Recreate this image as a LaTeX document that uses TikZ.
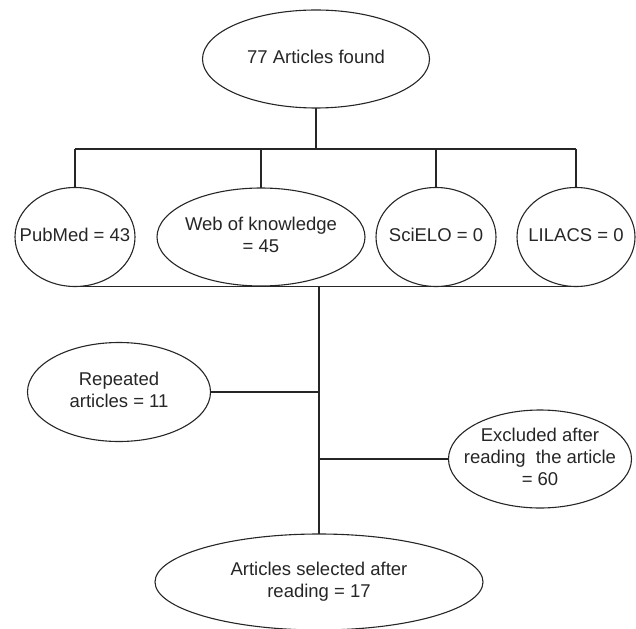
\documentclass[tikz,border=0pt]{standalone}
\usepackage{fontspec}
\setmainfont{Liberation Sans}
\usetikzlibrary{shapes.geometric}
\newcommand{\lbl}[1]{\makebox[0pt]{\begin{tabular}{@{}c@{}}#1\end{tabular}}}
\tikzset{
    bubble/.style={draw=black!85, ellipse, line width=1.1pt, inner sep=0pt, outer sep=0pt,
        text=black!85, font=\fontsize{18.5}{22}\selectfont},
    link/.style={draw=black!85, line width=1.1pt}
}
\begin{document}
\begin{tikzpicture}[x=1pt, y=-1pt]
    \useasboundingbox (0, 0) rectangle (636, 628);
    \node[bubble, minimum width=227pt, minimum height=98pt] (found) at (316, 59) {\lbl{77 Articles found}};
    \node[bubble, minimum width=120pt, minimum height=99pt] (pubmed) at (75, 237) {\lbl{PubMed = 43}};
    \node[bubble, minimum width=208pt, minimum height=98pt] (wok) at (261, 237) {\lbl{Web of knowledge\\= 45}};
    \node[bubble, minimum width=120pt, minimum height=99pt] (scielo) at (436, 237) {\lbl{SciELO = 0}};
    \node[bubble, minimum width=118pt, minimum height=99pt] (lilacs) at (576, 237) {\lbl{LILACS = 0}};
    \node[bubble, minimum width=183pt, minimum height=99pt] (repeated) at (119, 392) {\lbl{Repeated\\articles = 11}};
    \node[bubble, minimum width=183pt, minimum height=98pt] (excluded) at (540, 459) {\lbl{Excluded after\\reading\hspace{0.55em}the article\\= 60}};
    \node[bubble, minimum width=328pt, minimum height=96pt] (selected) at (319, 582) {\lbl{Articles selected after\\reading = 17}};
    \coordinate (top) at (316, 149);
    \coordinate (mid) at (319, 286);
    \draw[link] (found) -- (top);
    \draw[link] (pubmed.north |- top) -- (lilacs.north |- top);
    \foreach \db in {pubmed, wok, scielo, lilacs}
        \draw[link] (\db.north) -- (\db.north |- top);
    \draw[link] (pubmed.south) -- (lilacs.south);
    \draw[link] (mid) -- (selected.north);
    \draw[link] (repeated.east) -- (repeated.east -| mid);
    \draw[link] (excluded.west) -- (excluded.west -| mid);
\end{tikzpicture}
\end{document}
